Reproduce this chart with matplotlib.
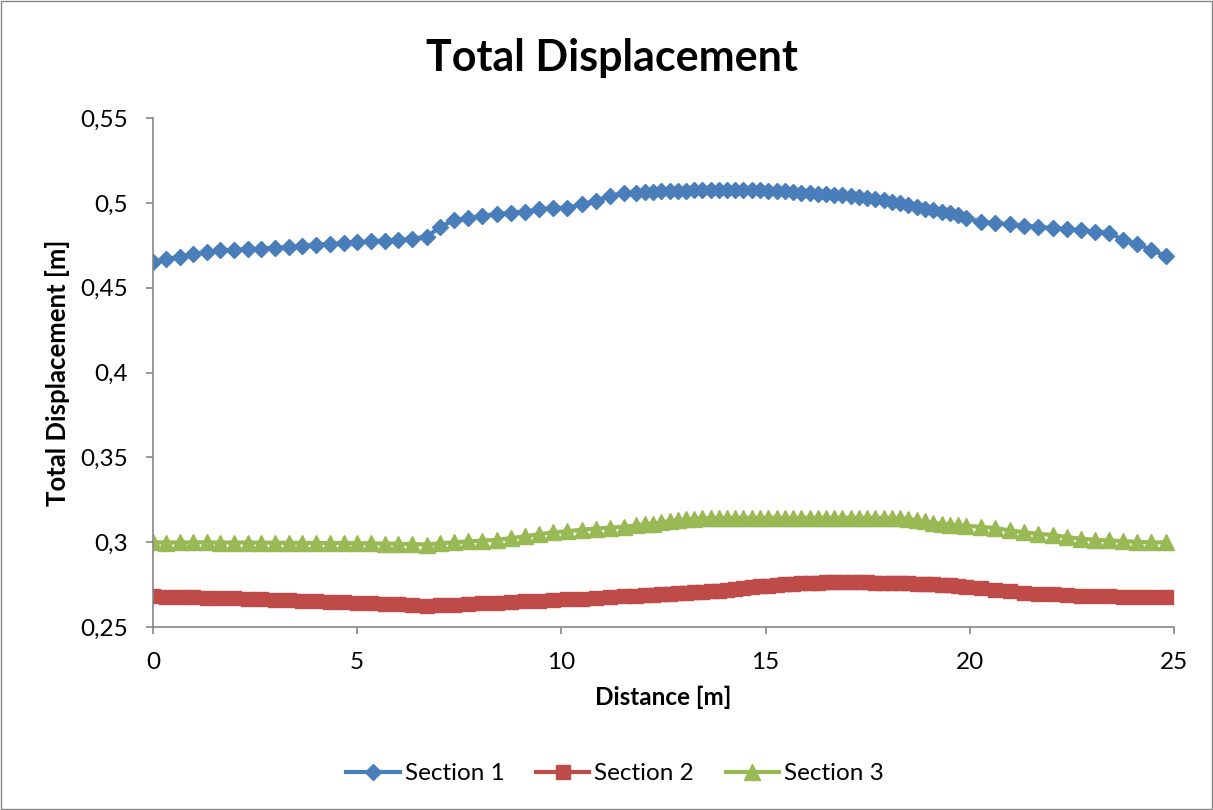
import matplotlib
matplotlib.use("Agg")
import matplotlib.pyplot as plt
from matplotlib.patches import Rectangle
from matplotlib.ticker import FuncFormatter

# ---- data ----
distance = [0.00, 0.33, 0.66, 0.99, 1.32, 1.65, 1.98, 2.32, 2.65, 2.99,
            3.33, 3.66, 4.00, 4.33, 4.67, 5.00, 5.34, 5.68, 6.01, 6.35,
            6.70, 7.03, 7.36, 7.72, 8.06, 8.42, 8.76, 9.11, 9.46, 9.80,
            10.14, 10.50, 10.85, 11.19, 11.54,
            11.84, 12.04, 12.24, 12.45, 12.65, 12.85, 13.05, 13.25, 13.45, 13.66,
            13.86, 14.06, 14.26, 14.46, 14.67, 14.87, 15.07, 15.27, 15.47, 15.67,
            15.88, 16.08, 16.28, 16.48, 16.68, 16.88, 17.09, 17.29, 17.49, 17.69,
            17.89, 18.10, 18.30, 18.50, 18.70, 18.90, 19.11, 19.31, 19.51, 19.71,
            19.91,
            20.27, 20.62, 20.98, 21.33, 21.68, 22.03, 22.37, 22.72, 23.07, 23.42,
            23.76, 24.10, 24.45, 24.80]

section1 = [0.4653, 0.4669, 0.4683, 0.4699, 0.4710, 0.4720, 0.4724, 0.4726, 0.4730, 0.4736,
            0.4740, 0.4747, 0.4753, 0.4758, 0.4762, 0.4768, 0.4773, 0.4777, 0.4781, 0.4788,
            0.4801, 0.4856, 0.4899, 0.4909, 0.4924, 0.4934, 0.4942, 0.4948, 0.4962, 0.4968,
            0.4971, 0.4991, 0.5013, 0.5042, 0.5056,
            0.5060, 0.5063, 0.5066, 0.5068, 0.5070, 0.5071, 0.5072, 0.5073, 0.5074, 0.5075,
            0.5075, 0.5076, 0.5076, 0.5075, 0.5074, 0.5073, 0.5071, 0.5069, 0.5067, 0.5064,
            0.5061, 0.5058, 0.5055, 0.5052, 0.5048, 0.5045, 0.5041, 0.5036, 0.5030, 0.5024,
            0.5016, 0.5007, 0.4997, 0.4987, 0.4976, 0.4966, 0.4957, 0.4947, 0.4938, 0.4926,
            0.4912,
            0.4889, 0.4879, 0.4875, 0.4864, 0.4860, 0.4850, 0.4844, 0.4840, 0.4830, 0.4824,
            0.4781, 0.4758, 0.4722, 0.4687]

section2 = [0.2680, 0.2679, 0.2677, 0.2675, 0.2673, 0.2671, 0.2669, 0.2667, 0.2665, 0.2662,
            0.2659, 0.2656, 0.2653, 0.2650, 0.2647, 0.2644, 0.2641, 0.2637, 0.2633, 0.2629,
            0.2626, 0.2628, 0.2632, 0.2636, 0.2640, 0.2644, 0.2648, 0.2652, 0.2656, 0.2660,
            0.2664, 0.2668, 0.2672, 0.2676, 0.2680,
            0.2683, 0.2686, 0.2689, 0.2692, 0.2695, 0.2698, 0.2701, 0.2704, 0.2707, 0.2711,
            0.2715, 0.2720, 0.2725, 0.2730, 0.2735, 0.2740, 0.2744, 0.2748, 0.2752, 0.2755,
            0.2758, 0.2760, 0.2762, 0.2763, 0.2764, 0.2764, 0.2764, 0.2764, 0.2763, 0.2762,
            0.2761, 0.2760, 0.2759, 0.2758, 0.2756, 0.2754, 0.2752, 0.2749, 0.2746, 0.2742,
            0.2738,
            0.2730, 0.2720, 0.2710, 0.2702, 0.2697, 0.2692, 0.2688, 0.2685, 0.2682, 0.2680,
            0.2678, 0.2677, 0.2676, 0.2676]

section3 = [0.3000, 0.2998, 0.2999, 0.2999, 0.2999, 0.2998, 0.2998, 0.2998, 0.2997, 0.2997,
            0.2996, 0.2996, 0.2995, 0.2995, 0.2995, 0.2994, 0.2993, 0.2992, 0.2991, 0.2989,
            0.2986, 0.2994, 0.2999, 0.3005, 0.3009, 0.3014, 0.3024, 0.3034, 0.3048, 0.3058,
            0.3064, 0.3074, 0.3080, 0.3086, 0.3091,
            0.3100, 0.3105, 0.3110, 0.3117, 0.3124, 0.3130, 0.3135, 0.3139, 0.3141, 0.3142,
            0.3143, 0.3143, 0.3144, 0.3144, 0.3144, 0.3144, 0.3144, 0.3144, 0.3144, 0.3144,
            0.3144, 0.3144, 0.3144, 0.3144, 0.3144, 0.3144, 0.3144, 0.3144, 0.3144, 0.3144,
            0.3144, 0.3143, 0.3141, 0.3137, 0.3130, 0.3122, 0.3114, 0.3108, 0.3104, 0.3101,
            0.3097,
            0.3090, 0.3084, 0.3069, 0.3059, 0.3049, 0.3043, 0.3030, 0.3021, 0.3014, 0.3010,
            0.3006, 0.3002, 0.2999, 0.2999]

series_names = ["Section 1", "Section 2", "Section 3"]
x_ticks = [0, 5, 10, 15, 20, 25]
y_ticks = [0.25, 0.30, 0.35, 0.40, 0.45, 0.50, 0.55]

# ---- style ----
FONT = ["Lato", "DejaVu Sans"]
plt.rcParams["font.family"] = FONT
colors = ["#4A7EBB", "#BE4B48", "#98B954"]
markers = ["D", "s", "^"]
msizes = [8.5, 10.5, 12]

fig = plt.figure(figsize=(12.13, 8.10), dpi=100)
ax = fig.add_axes([0.1261, 0.2259, 0.8417, 0.6284])

for name, ys, c, m, ms in zip(series_names, [section1, section2, section3], colors, markers, msizes):
    ax.plot(distance, ys, color=c, lw=3, marker=m, ms=ms, mec=c, mfc=c, label=name)

ax.set_xlim(0, 25)
ax.set_ylim(0.25, 0.55)
ax.set_xticks(x_ticks)
ax.set_yticks(y_ticks)
ax.yaxis.set_major_formatter(FuncFormatter(lambda v, p: ("%g" % v).replace(".", ",")))
for s in ["top", "right"]:
    ax.spines[s].set_visible(False)
for s in ["left", "bottom"]:
    ax.spines[s].set_color("#868686")
    ax.spines[s].set_linewidth(1.2)
ax.tick_params(axis="both", colors="#868686", labelcolor="black", labelsize=17.5,
               length=5, width=1.2, direction="out")
ax.tick_params(axis="x", pad=13)
ax.tick_params(axis="y", pad=13)

ax.set_xlabel("Distance [m]", fontsize=17.5, fontweight="bold", labelpad=9)
ax.set_ylabel("Total Displacement [m]", fontsize=18.5, fontweight="bold", labelpad=7)
fig.text(0.5045, 0.929, "Total Displacement", ha="center", va="center",
         fontsize=31, fontweight="bold")

leg = fig.legend(loc="center", bbox_to_anchor=(0.507, 0.045), ncol=3, frameon=False,
                 fontsize=17.5, handlelength=2.2, handletextpad=0.2, columnspacing=1.3)

fig.patches.append(Rectangle((0.001, 0.001), 0.998, 0.998, transform=fig.transFigure,
                             fill=False, edgecolor="#868686", lw=1.0))

fig.savefig("out.png", dpi=100)
